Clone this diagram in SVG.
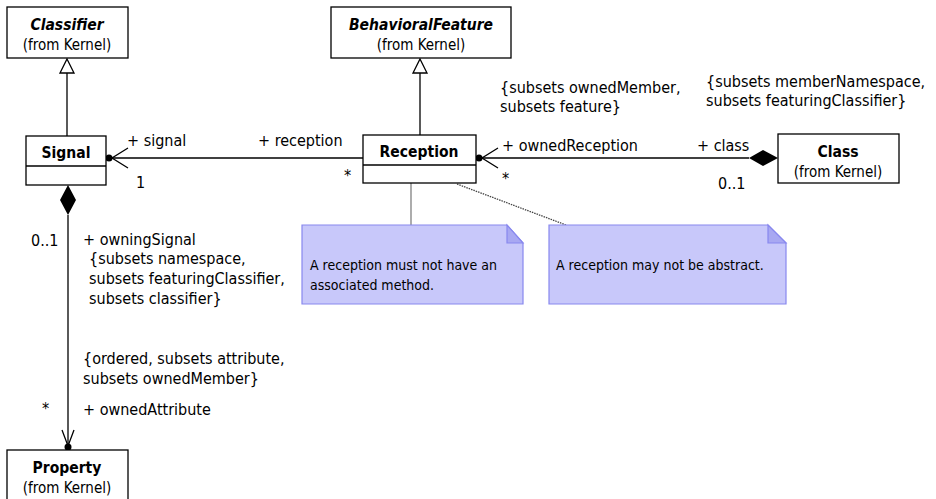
<svg xmlns="http://www.w3.org/2000/svg" width="936" height="499" viewBox="0 0 936 499">
<style>
text{font-family:"DejaVu Sans Condensed","DejaVu Sans",sans-serif;font-size:16px;fill:#000}
.t{font-weight:bold;text-anchor:middle;font-size:15.5px}
.ti{font-weight:bold;font-style:italic;text-anchor:middle;font-size:15.5px}
.s{text-anchor:middle;font-size:15px}
.n{font-size:14px}
.box{fill:#fff;stroke:#000;stroke-width:1.3}
.ln{stroke:#000;stroke-width:1.3;fill:none}
.note{fill:#c8c8fa;stroke:#8888ee;stroke-width:1.2}
.fold{fill:#a8a8f2;stroke:#8888ee;stroke-width:1.2}
</style>
<g id="connectors">
<line class="ln" x1="67" y1="73" x2="67" y2="136"/>
<polygon points="67,59 74,73 60,73" fill="#fff" stroke="#000" stroke-width="1.3"/>
<line class="ln" x1="420" y1="73" x2="420" y2="135"/>
<polygon points="420,59 427,73 413,73" fill="#fff" stroke="#000" stroke-width="1.3"/>
<line class="ln" x1="106" y1="158" x2="363" y2="158"/>
<circle cx="109" cy="158" r="3.5"/>
<polyline class="ln" points="128,148 112,158 128,168"/>
<line class="ln" x1="476" y1="158" x2="749" y2="158"/>
<circle cx="479" cy="158" r="3.5"/>
<polyline class="ln" points="498,148 482,158 498,168"/>
<polygon points="749,158 763,150 778,158 763,166"/>
<line class="ln" x1="68" y1="215" x2="68" y2="450"/>
<polygon points="68,185 76,200 68,215 60,200"/>
<polyline class="ln" points="62,430 68,446 74,430"/>
<circle cx="68" cy="447" r="3.5"/>
<line x1="411" y1="183" x2="411" y2="225" stroke="#808080" stroke-width="1.3"/>
<line x1="457" y1="184" x2="566" y2="225" stroke="#444" stroke-width="1.3" stroke-dasharray="1.5,1"/>
<text x="127" y="146">+ signal</text>
<text x="136" y="188">1</text>
<text x="258" y="146">+ reception</text>
<text x="344" y="181">*</text>
<text x="502" y="151">+ ownedReception</text>
<text x="502" y="184">*</text>
<text x="500" y="93">{subsets ownedMember,</text>
<text x="500" y="112">subsets feature}</text>
<text x="697" y="151">+ class</text>
<text x="718" y="189">0..1</text>
<text x="706" y="87">{subsets memberNamespace,</text>
<text x="706" y="106">subsets featuringClassifier}</text>
<text x="31" y="246">0..1</text>
<text x="83" y="245">+ owningSignal</text>
<text x="89" y="264">{subsets namespace,</text>
<text x="89" y="284">subsets featuringClassifier,</text>
<text x="89" y="304">subsets classifier}</text>
<text x="83" y="364">{ordered, subsets attribute,</text>
<text x="83" y="384">subsets ownedMember}</text>
<text x="42" y="414">*</text>
<text x="83" y="415">+ ownedAttribute</text>
</g>
<g id="classifier">
<rect class="box" x="7" y="7" width="121" height="51"/>
<text class="ti" x="67" y="30">Classifier</text>
<text class="s" x="67" y="50">(from Kernel)</text>
</g>
<g id="behavioralfeature">
<rect class="box" x="331" y="7" width="180" height="51"/>
<text class="ti" x="421" y="30">BehavioralFeature</text>
<text class="s" x="421" y="50">(from Kernel)</text>
</g>
<g id="signal">
<rect class="box" x="26" y="136" width="80" height="49"/>
<line class="ln" x1="26" y1="166" x2="106" y2="166"/>
<text class="t" x="66" y="158">Signal</text>
</g>
<g id="reception">
<rect class="box" x="363" y="135" width="113" height="48"/>
<line class="ln" x1="363" y1="165" x2="476" y2="165"/>
<text class="t" x="419" y="157">Reception</text>
</g>
<g id="class">
<rect class="box" x="778" y="134" width="121" height="49"/>
<text class="t" x="838" y="157">Class</text>
<text class="s" x="838" y="177">(from Kernel)</text>
</g>
<g id="property">
<rect class="box" x="7" y="450" width="121" height="52"/>
<text class="t" x="67" y="473">Property</text>
<text class="s" x="67" y="493">(from Kernel)</text>
</g>
<g id="note1">
<path class="note" d="M302,225 H507 L523,243 V304 H302 Z"/>
<path class="fold" d="M507,225 V243 H523 Z"/>
<text class="n" x="310" y="270">A reception must not have an</text>
<text class="n" x="310" y="290">associated method.</text>
</g>
<g id="note2">
<path class="note" d="M549,225 H768 L786,243 V304 H549 Z"/>
<path class="fold" d="M768,225 V243 H786 Z"/>
<text class="n" x="556" y="270">A reception may not be abstract.</text>
</g>
</svg>
